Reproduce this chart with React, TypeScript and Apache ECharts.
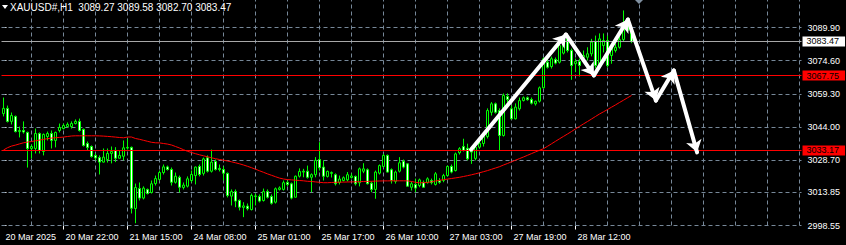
import React, { useEffect, useRef } from "react";
import * as echarts from "echarts";

const FONT = "Liberation Sans, Arial, sans-serif";

const SYMBOL = "XAUUSD#,H1";
const HEADER_OHLC = [3089.27, 3089.58, 3082.7, 3083.47]; // open, high, low, close

const SLOT_COUNT = 200; // time slots on the axis (includes the empty right shift)

// [open, close, low, high]
const CANDLES: number[][] = [
  [3050.2, 3052.6, 3048.9, 3057.6], [3052.6, 3046.6, 3046.1, 3053.9], [3046.6, 3049.3, 3045.2, 3050.7], [3048.9, 3041.9, 3041.5, 3049.3],
  [3041.9, 3042.4, 3039.2, 3044.2], [3042.4, 3041.7, 3041.0, 3046.6], [3041.5, 3034.1, 3025.3, 3041.9], [3034.1, 3035.0, 3029.5, 3035.9],
  [3034.1, 3041.0, 3031.8, 3043.3], [3041.0, 3033.2, 3031.8, 3041.5], [3032.7, 3040.6, 3030.9, 3041.0], [3039.6, 3041.0, 3037.8, 3041.9],
  [3041.0, 3037.8, 3034.1, 3042.4], [3037.8, 3041.5, 3034.6, 3041.9], [3042.4, 3043.8, 3041.5, 3045.6], [3043.3, 3044.7, 3042.9, 3045.6],
  [3044.2, 3045.2, 3043.8, 3046.1], [3044.2, 3045.6, 3043.3, 3046.6], [3045.6, 3046.6, 3045.2, 3047.5], [3046.6, 3042.4, 3041.9, 3047.9],
  [3042.9, 3035.5, 3035.0, 3043.3], [3036.4, 3034.6, 3033.2, 3037.3], [3035.0, 3030.4, 3029.9, 3035.5], [3030.9, 3029.7, 3028.6, 3031.8],
  [3029.9, 3027.8, 3022.1, 3030.9], [3027.8, 3030.1, 3027.6, 3034.1], [3029.0, 3031.8, 3027.6, 3034.1], [3031.8, 3032.7, 3027.2, 3035.0],
  [3033.2, 3029.6, 3027.8, 3034.7], [3029.6, 3030.9, 3029.5, 3033.2], [3030.5, 3034.4, 3028.6, 3037.8], [3034.3, 3034.6, 3033.6, 3038.6],
  [3034.6, 3006.5, 3004.1, 3035.0], [3006.4, 3016.1, 2999.6, 3017.9], [3015.6, 3011.2, 3010.1, 3018.4], [3011.2, 3015.8, 3010.6, 3016.6],
  [3015.2, 3013.3, 3012.9, 3015.6], [3013.8, 3017.8, 3013.3, 3019.3], [3017.9, 3020.2, 3017.0, 3021.6], [3019.8, 3023.0, 3019.3, 3023.9],
  [3023.0, 3025.6, 3022.1, 3026.7], [3025.6, 3024.4, 3023.9, 3026.2], [3024.4, 3018.5, 3017.0, 3025.3], [3018.5, 3021.3, 3017.9, 3023.0],
  [3020.8, 3016.2, 3013.8, 3021.6], [3016.1, 3017.2, 3015.2, 3018.4], [3016.7, 3020.1, 3016.1, 3021.2], [3019.3, 3022.1, 3018.4, 3023.9],
  [3021.6, 3025.5, 3017.5, 3025.8], [3025.8, 3022.1, 3021.2, 3026.7], [3022.6, 3029.3, 3021.6, 3029.9], [3029.8, 3023.6, 3023.0, 3030.9],
  [3023.6, 3027.8, 3023.0, 3033.6], [3028.1, 3024.4, 3023.9, 3029.0], [3024.9, 3024.4, 3023.5, 3026.7], [3024.4, 3022.7, 3019.3, 3025.8],
  [3022.6, 3012.4, 3011.5, 3023.0], [3012.1, 3014.2, 3007.8, 3015.2], [3014.2, 3009.8, 3007.0, 3015.2], [3010.1, 3007.0, 3005.5, 3010.6],
  [3006.9, 3007.6, 3002.4, 3009.3], [3007.5, 3006.3, 3005.5, 3008.7], [3005.9, 3012.4, 3005.5, 3013.3], [3011.9, 3012.2, 3007.8, 3013.3],
  [3011.9, 3009.8, 3009.2, 3012.9], [3010.1, 3014.2, 3009.6, 3015.6], [3014.2, 3011.6, 3011.0, 3015.2], [3011.9, 3008.8, 3008.2, 3012.9],
  [3009.3, 3015.5, 3008.7, 3016.1], [3015.2, 3015.9, 3014.7, 3016.6], [3015.2, 3018.3, 3014.7, 3019.3], [3018.4, 3017.5, 3016.6, 3019.3],
  [3017.8, 3011.2, 3010.6, 3018.4], [3011.6, 3021.3, 3011.5, 3021.6], [3021.3, 3023.5, 3020.7, 3024.9], [3023.2, 3023.6, 3020.8, 3024.7],
  [3023.6, 3020.8, 3020.2, 3026.2], [3020.8, 3022.0, 3013.9, 3022.6], [3022.0, 3028.6, 3020.8, 3030.1], [3029.0, 3025.2, 3023.9, 3037.0],
  [3025.5, 3021.3, 3019.3, 3028.6], [3021.2, 3023.5, 3020.7, 3023.9], [3022.6, 3023.0, 3020.7, 3023.5], [3022.0, 3017.8, 3017.0, 3022.6],
  [3018.4, 3020.0, 3017.5, 3021.6], [3019.3, 3020.6, 3018.9, 3021.2], [3019.6, 3022.0, 3018.9, 3023.2], [3020.7, 3021.4, 3020.2, 3022.6],
  [3021.2, 3017.8, 3017.0, 3021.6], [3018.3, 3024.7, 3016.6, 3025.3], [3023.6, 3024.7, 3022.7, 3027.3], [3024.3, 3017.8, 3017.5, 3024.9],
  [3018.1, 3015.2, 3013.9, 3018.9], [3015.2, 3023.2, 3010.9, 3023.9], [3022.7, 3026.2, 3022.1, 3026.7], [3025.8, 3030.9, 3025.3, 3031.6],
  [3030.9, 3023.2, 3023.0, 3031.3], [3024.3, 3019.3, 3017.9, 3024.9], [3018.9, 3023.2, 3017.9, 3023.9], [3023.6, 3027.5, 3023.0, 3030.1],
  [3028.2, 3025.5, 3024.9, 3029.0], [3027.0, 3016.7, 3016.6, 3027.2], [3016.2, 3017.8, 3014.7, 3018.9], [3017.5, 3015.8, 3013.9, 3020.2],
  [3017.0, 3019.6, 3016.2, 3020.2], [3018.5, 3016.2, 3016.1, 3019.3], [3018.3, 3020.1, 3017.9, 3020.8], [3019.3, 3018.3, 3017.5, 3020.2],
  [3017.5, 3022.4, 3017.0, 3023.2], [3019.3, 3018.5, 3017.8, 3020.4], [3019.3, 3021.6, 3018.5, 3022.4], [3021.6, 3025.8, 3021.2, 3026.2],
  [3025.8, 3023.2, 3022.6, 3026.7], [3023.9, 3031.6, 3023.5, 3032.2], [3032.1, 3034.0, 3031.3, 3034.7], [3035.0, 3033.2, 3032.7, 3038.6],
  [3034.2, 3029.3, 3028.6, 3036.3], [3032.4, 3033.2, 3027.0, 3034.6], [3029.5, 3034.7, 3028.6, 3035.5], [3034.7, 3036.5, 3034.1, 3037.8],
  [3036.4, 3039.6, 3035.0, 3041.6], [3039.6, 3051.6, 3038.7, 3052.6], [3050.8, 3054.7, 3049.3, 3055.5], [3054.7, 3050.8, 3050.2, 3055.3],
  [3051.6, 3040.1, 3033.2, 3052.6], [3040.1, 3058.6, 3039.6, 3059.5], [3058.1, 3056.7, 3055.3, 3059.5], [3052.4, 3047.8, 3047.5, 3053.9],
  [3047.8, 3053.2, 3047.5, 3054.9], [3052.4, 3056.2, 3051.6, 3057.6], [3056.2, 3057.5, 3055.8, 3058.1], [3057.5, 3056.6, 3056.2, 3058.1],
  [3056.7, 3055.0, 3054.4, 3057.6], [3054.7, 3055.9, 3053.9, 3056.2], [3055.9, 3062.1, 3055.3, 3062.7], [3062.1, 3075.5, 3061.8, 3076.1],
  [3073.9, 3071.6, 3071.0, 3075.6], [3071.9, 3075.5, 3071.0, 3076.5], [3075.2, 3073.5, 3072.9, 3076.1], [3073.9, 3081.6, 3073.3, 3082.6],
  [3078.1, 3084.3, 3077.5, 3086.2], [3084.7, 3079.3, 3078.4, 3085.8], [3079.3, 3072.4, 3065.8, 3080.2], [3073.2, 3074.2, 3069.3, 3075.6],
  [3074.2, 3072.4, 3067.3, 3075.6], [3076.0, 3077.0, 3073.8, 3079.3], [3076.2, 3077.8, 3074.7, 3080.8], [3077.8, 3083.2, 3076.6, 3084.7],
  [3083.5, 3072.4, 3071.0, 3086.2], [3071.6, 3084.7, 3070.6, 3087.2], [3081.6, 3083.9, 3078.4, 3087.2], [3083.9, 3072.4, 3071.5, 3086.2],
  [3077.0, 3080.8, 3073.2, 3082.1], [3079.3, 3080.8, 3078.4, 3082.6], [3080.8, 3084.3, 3080.2, 3085.8], [3084.4, 3089.3, 3083.5, 3097.8],
  [3088.6, 3091.3, 3087.6, 3093.2], [3089.27, 3083.47, 3082.7, 3089.58],
];

const MA: number[] = [
  3033.40, 3034.46, 3035.20, 3035.66, 3036.21, 3036.72, 3037.04, 3037.32, 3037.64, 3037.96,
  3038.29, 3038.61, 3038.89, 3039.07, 3039.21, 3039.35, 3039.63, 3039.86, 3039.95, 3039.95,
  3039.95, 3039.95, 3039.95, 3039.95, 3039.90, 3039.81, 3039.67, 3039.53, 3039.35, 3039.16,
  3039.03, 3039.39, 3039.39, 3038.70, 3038.33, 3037.87, 3037.41, 3036.95, 3036.72, 3036.67,
  3036.40, 3036.12, 3035.70, 3035.01, 3034.32, 3033.53, 3032.80, 3032.24, 3031.69, 3031.18,
  3030.72, 3030.26, 3029.80, 3029.38, 3029.01, 3028.69, 3028.32, 3027.95, 3027.49, 3027.03,
  3026.47, 3025.87, 3025.23, 3024.53, 3023.80, 3023.10, 3022.37, 3021.72, 3021.07, 3020.43,
  3020.01, 3019.74, 3019.60, 3019.46, 3019.32, 3019.18, 3018.95, 3018.86, 3018.67, 3018.49,
  3018.30, 3018.30, 3018.40, 3018.49, 3018.54, 3018.58, 3018.63, 3018.67, 3018.72, 3018.77,
  3018.86, 3018.90, 3018.95, 3019.04, 3019.09, 3019.14, 3019.14, 3019.18, 3019.18, 3019.18,
  3019.18, 3019.14, 3018.86, 3018.49, 3018.26, 3018.30, 3018.44, 3018.72, 3019.09, 3019.41,
  3019.69, 3019.97, 3020.24, 3020.52, 3020.80, 3021.17, 3021.54, 3021.95, 3022.41, 3022.87,
  3023.38, 3023.89, 3024.49, 3025.09, 3025.69, 3026.47, 3027.17, 3027.95, 3028.69, 3029.43,
  3030.17, 3030.95, 3031.73, 3032.52, 3033.26, 3034.00, 3035.10, 3036.26, 3037.41, 3038.56,
  3039.67, 3040.78, 3041.93, 3043.13, 3044.29, 3045.44, 3046.55, 3047.70, 3048.86, 3050.01,
  3051.03, 3052.09, 3053.15, 3054.21, 3055.32, 3056.38, 3057.49, 3058.55,
];

const TIME_TICK_INDEX = [0, 15, 31, 47, 63, 79, 95, 111, 127, 143];
const TIME_TICK_LABELS = [
  "20 Mar 2025", "20 Mar 22:00", "21 Mar 15:00", "24 Mar 08:00", "25 Mar 01:00",
  "25 Mar 17:00", "26 Mar 10:00", "27 Mar 03:00", "27 Mar 19:00", "28 Mar 12:00",
];
const TIME_GRID_INDEX = [7, 15, 23, 31, 39, 47, 55, 63, 71, 79, 87, 95, 103, 111, 119, 127, 135, 143, 151, 159, 167, 175, 183, 191, 199];

const PRICE_TICKS = [2998.55, 3013.85, 3028.7, 3044.0, 3059.3, 3074.6, 3089.9];
const PRICE_MIN = 2998.55;
const PRICE_MAX = 3102.62;

const LEVEL_PRICES = [3083.47, 3067.75, 3033.17];

// hand-drawn arrow path: bar position, price
const ARROW_X = [116.9, 140.6, 147.6, 156.1, 163.1, 167.6, 173.4];
const ARROW_Y = [3033.6, 3086.7, 3067.8, 3093.6, 3056.2, 3070.1, 3032.3];

// styles
const GRID_COLOR = "#778899";
const CANDLE_COLOR = "#00ff00";
const LEVEL_LINE_COLORS = ["#a8a8a8", "#ff0000", "#ff0000"];
const LEVEL_BOX_COLORS = ["#ffffff", "#ff0000", "#ff0000"];

export default function App() {
  const ref = useRef<HTMLDivElement>(null);

  useEffect(() => {
    if (!ref.current) return;
    const chart = echarts.init(ref.current, null, { renderer: "svg" });

    const labelMap = new Map<number, string>();
    TIME_TICK_INDEX.forEach((idx, k) => labelMap.set(idx, TIME_TICK_LABELS[k]));
    const categories = Array.from({ length: SLOT_COUNT }, (_, i) => labelMap.get(i) ?? `#${i}`);

    const headerText = `${SYMBOL}  ${HEADER_OHLC.map((v) => v.toFixed(2)).join(" ")}`;

    const gridLines = [
      ...TIME_GRID_INDEX.map((i) => ({ coords: [[i, PRICE_MIN], [i, PRICE_MAX]] })),
      ...PRICE_TICKS.map((p) => ({ coords: [[-0.5, p], [SLOT_COUNT - 0.5, p]] })),
    ];

    const arrowSegments = ARROW_X.slice(1).map((x, k) => ({
      coords: [[ARROW_X[k], ARROW_Y[k]], [x, ARROW_Y[k + 1]]],
    }));

    const option: any = {
      animation: false,
      backgroundColor: "#000000",
      textStyle: { fontFamily: FONT },
      title: {
        text: headerText,
        left: 10,
        top: 1,
        padding: 0,
        textStyle: { color: "#ffffff", fontSize: 10, fontWeight: "normal", fontFamily: FONT, lineHeight: 12 },
      },
      graphic: [
        { type: "polygon", silent: true, shape: { points: [[2, 5], [8, 5], [5, 9]] }, style: { fill: "#ffffff" } },
        { type: "polygon", silent: true, shape: { points: [[635, 0], [643, 0], [639, 4]] }, style: { fill: "#8090a0" } },
      ],
      grid: { left: 1.5, right: 44.5, top: 0, bottom: 19.5, containLabel: false, outerBoundsMode: "none" },
      xAxis: [
        {
          type: "category",
          data: categories,
          boundaryGap: true,
          axisLine: { show: false },
          axisTick: {
            show: true,
            alignWithLabel: true,
            interval: (i: number) => labelMap.has(i) && i > 0,
            length: 4,
            lineStyle: { color: "#ffffff" },
          },
          axisLabel: {
            show: true,
            interval: (i: number) => labelMap.has(i),
            formatter: (_v: string, i: number) => labelMap.get(i) ?? "",
            align: "left",
            padding: [0, 0, 0, 2],
            margin: 7,
            color: "#ffffff",
            fontSize: 9,
            fontFamily: FONT,
            hideOverlap: false,
          },
          splitLine: { show: false },
        },
        { type: "value", min: -0.5, max: SLOT_COUNT - 0.5, show: false },
      ],
      yAxis: {
        type: "value",
        position: "right",
        min: PRICE_MIN,
        max: PRICE_MAX,
        axisLine: { show: false },
        axisTick: { show: true, customValues: PRICE_TICKS, length: 3, lineStyle: { color: "#ffffff" } },
        axisLabel: {
          customValues: PRICE_TICKS,
          formatter: (v: number) => v.toFixed(2),
          color: "#ffffff",
          fontSize: 9,
          fontFamily: FONT,
          margin: 6,
        },
        splitLine: { show: false },
      },
      series: [
        {
          type: "lines",
          coordinateSystem: "cartesian2d",
          xAxisIndex: 1,
          yAxisIndex: 0,
          z: 1,
          silent: true,
          clip: false,
          lineStyle: { color: GRID_COLOR, width: 1, type: [4, 3], opacity: 1 },
          data: gridLines,
        },
        {
          type: "candlestick",
          xAxisIndex: 0,
          yAxisIndex: 0,
          z: 2,
          silent: true,
          barWidth: 2,
          data: CANDLES,
          itemStyle: {
            color: "#000000",
            color0: "#ffffff",
            borderColor: CANDLE_COLOR,
            borderColor0: CANDLE_COLOR,
            borderColorDoji: CANDLE_COLOR,
            borderWidth: 1,
          },
          markLine: {
            silent: true,
            symbol: ["none", "none"],
            animation: false,
            data: LEVEL_PRICES.map((p, k) => ({
              yAxis: p,
              lineStyle: { color: LEVEL_LINE_COLORS[k], width: 1, type: "solid" },
              label: {
                show: true,
                position: "end",
                distance: 1,
                formatter: () => p.toFixed(2),
                backgroundColor: LEVEL_BOX_COLORS[k],
                color: "#000000",
                fontSize: 9,
                fontFamily: FONT,
                lineHeight: 10,
                padding: [0, 6, 0, 4],
              },
            })),
          },
        },
        {
          type: "line",
          xAxisIndex: 0,
          yAxisIndex: 0,
          z: 3,
          silent: true,
          data: MA,
          symbol: "none",
          lineStyle: { color: "#ff0000", width: 1 },
        },
        {
          type: "lines",
          coordinateSystem: "cartesian2d",
          xAxisIndex: 1,
          yAxisIndex: 0,
          z: 10,
          silent: true,
          clip: false,
          symbol: ["none", "arrow"],
          symbolSize: 12,
          lineStyle: { color: "#ffffff", width: 4, opacity: 1, cap: "round" },
          data: arrowSegments,
        },
      ],
    };

    chart.setOption(option);
    return () => chart.dispose();
  }, []);

  return (
    <div
      ref={ref}
      style={{ position: "fixed", left: 0, top: 0, width: 846, height: 245, background: "#000" }}
    />
  );
}
